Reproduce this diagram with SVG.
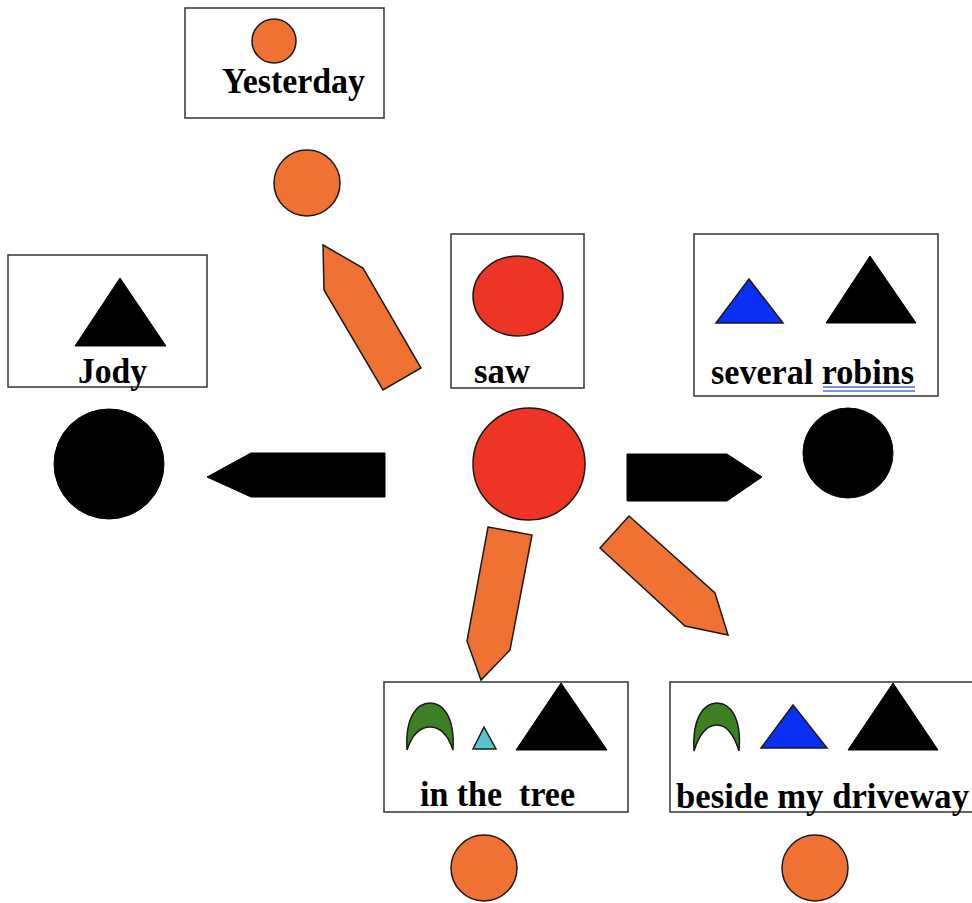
<svg xmlns="http://www.w3.org/2000/svg" width="972" height="903" viewBox="0 0 972 903">
<style>
.box{fill:#fff;stroke:#333;stroke-width:1.5}
.lbl{font-family:"Liberation Serif","Times New Roman",serif;font-weight:bold;font-size:35px;fill:#000}
.or{fill:#f07232;stroke:#1a1a1a;stroke-width:1.5}
.red{fill:#ee3424;stroke:#1a1a1a;stroke-width:1.5}
.blk{fill:#000;stroke:#000;stroke-width:1}
.blue{fill:#0a30f5;stroke:#1a1a1a;stroke-width:1.5}
.cyan{fill:#5ac3cf;stroke:#1a1a1a;stroke-width:1.5}
.grn{fill:#3c7f24;stroke:#1a1a1a;stroke-width:1.5}
</style>
<rect width="972" height="903" fill="#fff"/>
<g id="yesterday">
<rect class="box" x="185" y="8" width="199" height="110"/>
<circle class="or" cx="274" cy="41" r="22"/>
<text class="lbl" x="222" y="93" textLength="143" lengthAdjust="spacingAndGlyphs">Yesterday</text>
</g>
<g id="yesterday-dot"><circle class="or" cx="307" cy="183" r="33"/></g>
<g id="jody">
<rect class="box" x="8" y="255" width="199" height="132"/>
<polygon class="blk" points="120,278 166,346 75,346"/>
<text class="lbl" x="78" y="383" textLength="69" lengthAdjust="spacingAndGlyphs">Jody</text>
</g>
<g id="jody-dot"><circle class="blk" cx="109" cy="464" r="55"/></g>
<g id="saw">
<rect class="box" x="451" y="234" width="133" height="154"/>
<ellipse class="red" cx="518" cy="296" rx="45" ry="40"/>
<text class="lbl" x="474" y="383" textLength="56" lengthAdjust="spacingAndGlyphs">saw</text>
</g>
<g id="saw-dot"><circle class="red" cx="529" cy="464" r="56"/></g>
<g id="robins">
<rect class="box" x="694" y="234" width="244" height="162"/>
<polygon class="blue" points="749,279 783,323 716,323"/>
<polygon class="blk" points="870,256 916,323 826,323"/>
<text class="lbl" x="711" y="384" textLength="203" lengthAdjust="spacingAndGlyphs">several robins</text>
<line x1="823" y1="387" x2="915" y2="387" stroke="#4a72d0" stroke-width="1.5"/>
<line x1="823" y1="391" x2="915" y2="391" stroke="#4a72d0" stroke-width="1.5"/>
</g>
<g id="robins-dot"><circle class="blk" cx="848" cy="453" r="45"/></g>
<g id="tree">
<rect class="box" x="384" y="682" width="244" height="130"/>
<path class="grn" d="M407,750 C405,715 418,703 430,703 C442,703 455,715 453,750 C448,735 440,727 430,727 C420,727 412,735 407,750 Z"/>
<polygon class="cyan" points="484,727 496,749 473,749"/>
<polygon class="blk" points="561,683 607,750 516,750"/>
<text class="lbl" x="420" y="806" xml:space="preserve" textLength="155" lengthAdjust="spacingAndGlyphs">in the  tree</text>
</g>
<g id="tree-dot"><circle class="or" cx="484" cy="868" r="33"/></g>
<g id="driveway">
<rect class="box" x="670" y="682" width="310" height="130"/>
<path class="grn" d="M694,751 C692,716 705,703 717,703 C729,703 742,716 739,751 C734,735 727,725 717,725 C707,725 699,735 694,751 Z"/>
<polygon class="blue" points="793,705 827,748 761,748"/>
<polygon class="blk" points="893,683 938,750 848,750"/>
<text class="lbl" x="676" y="808" textLength="293" lengthAdjust="spacingAndGlyphs">beside my driveway</text>
</g>
<g id="driveway-dot"><circle class="or" cx="815" cy="868" r="33"/></g>
<g id="connectors">
<polygon class="or" points="323,245 363,268 421,368 383,390 324,290"/>
<polygon class="blk" points="385,453 385,497 251,497 207,477 251,453"/>
<polygon class="blk" points="627,454 727,454 762,477 727,501 627,501"/>
<polygon class="or" points="488,527 532,535 510,650 481,680 467,641"/>
<polygon class="or" points="629,516 715,593 728,635 685,626 600,548"/>
</g>
</svg>
